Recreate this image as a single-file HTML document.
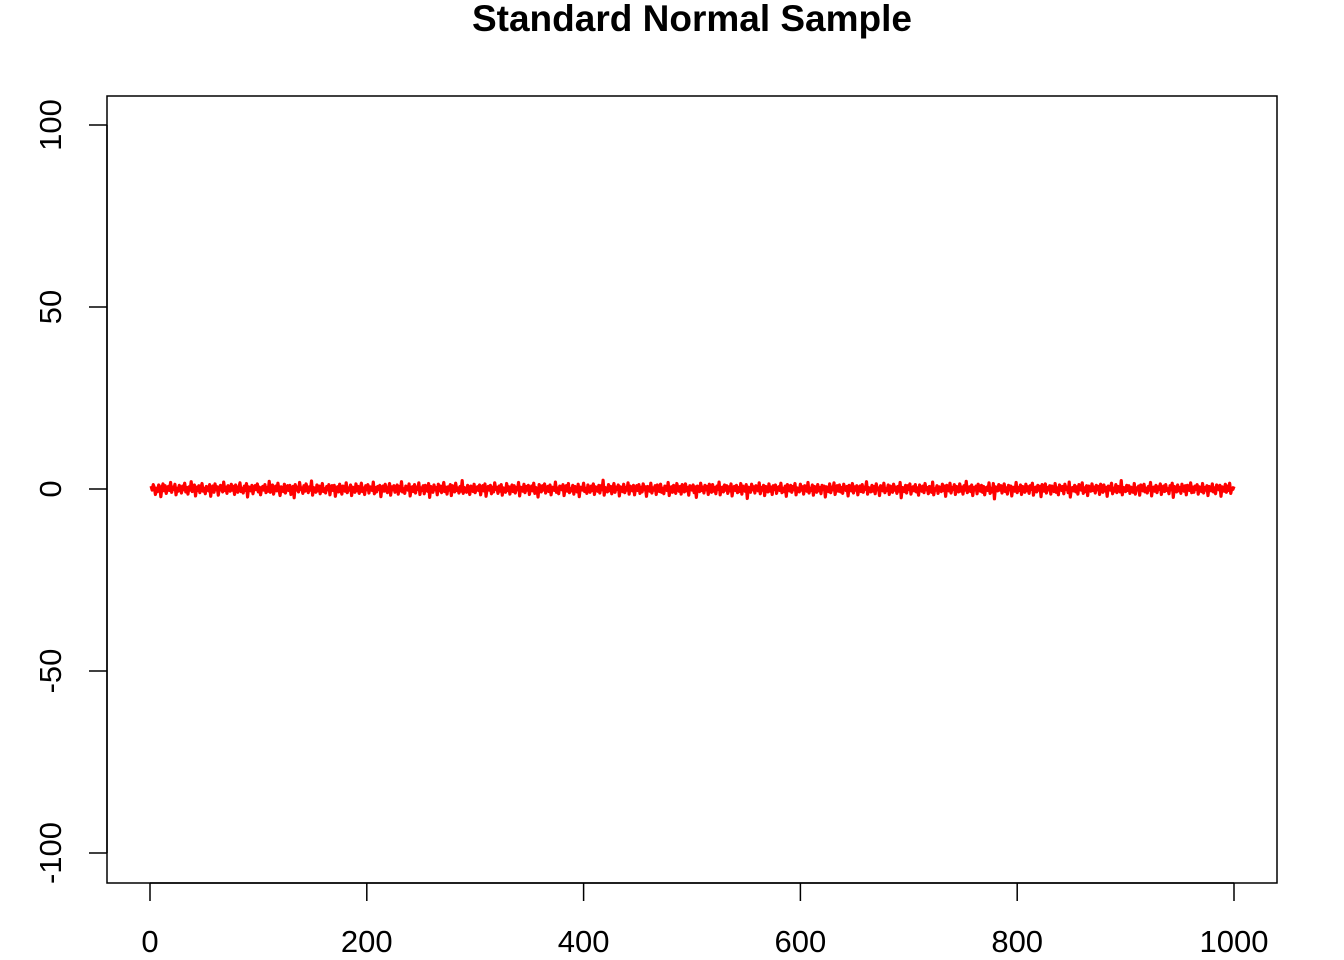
<!DOCTYPE html>
<html><head><meta charset="utf-8"><style>
html,body{margin:0;padding:0;background:#fff;}
svg{display:block;font-family:"Liberation Sans",Arial,sans-serif;}
</style></head><body>
<svg id="chart" width="1344" height="960">
<text x="692" y="31" text-anchor="middle" font-size="37" font-weight="bold">Standard Normal Sample</text>
<rect x="107" y="96" width="1170" height="787" fill="none" stroke="#000" stroke-width="1.5"/>
<g id="xaxis"></g>
<g id="yaxis"></g>
<path id="series" fill="none" stroke="#ff0000" stroke-width="3.2" stroke-linejoin="round"/>
</svg>
<script>
const xTicks=[0,200,400,600,800,1000];
const yTicks=[-100,-50,0,50,100];
const sampleValues=[
0.8,-0.3,1.2,0.4,-1.5,0.2,-0.7,1.1,0.6,-2.1,0.3,1.4,-0.5,0.9,-1.2,0.1,0.7,-0.4,1.8,-0.9,0.5,-0.1,1.3,-1.6,0.2,
-0.6,1.0,0.3,-1.1,0.8,-0.2,1.6,-0.8,0.4,-1.4,0.6,-0.3,2.0,-0.7,0.1,1.1,-1.9,0.5,-0.4,0.9,-1.0,0.3,1.5,-0.6,0.2,
-1.3,0.7,0.0,-0.5,1.2,-2.0,0.4,0.8,-0.9,1.4,-0.2,0.6,-1.7,0.3,1.0,-0.1,-0.8,1.9,-0.4,0.5,-1.2,0.9,0.2,-0.6,1.3,
-0.3,0.7,-1.5,1.1,0.0,-0.9,0.4,1.7,-0.7,0.2,-1.1,0.8,-0.4,1.5,-2.2,0.6,0.1,-0.5,1.0,-1.3,0.3,0.9,-0.2,1.4,-0.8,
0.5,-1.6,0.2,0.7,-0.3,1.2,-1.0,0.4,-0.6,2.1,-0.9,0.3,1.1,-1.4,0.0,0.8,-0.5,1.6,-0.2,-1.8,0.6,0.2,-0.7,1.3,-1.1,
0.4,0.9,-0.4,1.0,-1.5,0.1,0.7,-2.4,1.2,-0.3,0.5,-0.8,1.8,-0.1,0.3,-1.2,0.9,-0.6,1.4,0.2,-1.0,0.6,-0.3,2.2,-1.7,
0.4,0.0,-0.9,1.1,-0.5,0.8,-1.3,0.3,1.5,-0.7,0.1,-1.1,0.7,-0.2,1.2,-1.6,0.5,0.9,-0.4,1.0,-2.0,0.2,0.6,-0.8,1.3,
-0.1,-1.4,0.8,0.4,-0.6,1.7,-1.0,0.3,-0.3,1.1,-1.8,0.5,0.2,-0.9,1.4,-0.5,0.7,-1.2,0.0,1.6,-0.7,0.3,-1.5,0.9,-0.2,
1.2,-1.1,0.6,0.1,-0.4,1.9,-1.3,0.4,-0.8,0.7,-0.1,1.0,-2.1,0.5,0.8,-0.6,1.3,-0.3,-1.0,0.2,1.5,-1.7,0.6,-0.2,0.9,
-0.9,0.3,1.1,-1.4,0.7,-0.5,2.0,-0.8,0.1,-1.2,0.8,0.4,-0.3,1.4,-1.9,0.2,0.6,-0.7,1.2,-1.1,0.5,-0.1,1.7,-1.5,0.3,
-0.4,0.9,-1.3,1.0,0.0,-0.6,1.5,-2.3,0.7,0.2,-0.9,1.1,-0.2,0.4,-1.6,1.3,-0.5,0.8,-1.0,0.1,1.8,-0.7,0.5,-1.4,0.6,
-0.3,1.2,-1.8,0.9,0.2,-0.8,1.6,-0.4,0.3,-1.1,0.7,-0.6,2.3,-1.2,0.4,0.0,-0.9,1.0,-0.2,-1.5,0.8,0.5,-0.7,1.3,-1.0,
0.3,0.6,-0.4,1.1,-1.6,0.2,0.9,-0.5,1.4,-2.0,0.1,0.7,-0.3,1.0,-1.3,0.5,-0.8,1.7,-0.1,0.4,-1.2,0.8,-0.6,1.2,-1.7,
0.3,0.0,-0.9,1.5,-0.4,0.6,-1.4,0.2,1.1,-0.7,0.9,-1.1,0.4,-0.2,1.8,-1.9,0.5,0.3,-0.6,1.3,-1.0,0.7,-0.3,1.0,-1.5,
0.1,0.8,-0.5,1.6,-1.2,0.4,-0.1,-2.2,1.2,0.6,-0.8,0.9,-0.3,1.4,-1.1,0.2,0.7,-0.7,1.1,-1.6,0.5,0.0,-0.4,1.9,-0.9,
0.3,-1.3,0.8,0.6,-0.2,1.2,-1.8,0.4,0.9,-0.6,1.5,-1.0,0.1,-0.5,1.0,-1.4,0.7,0.2,-0.8,1.3,-2.1,0.5,0.4,-0.3,1.6,
-0.7,0.2,-1.2,1.1,0.0,-0.9,0.8,-0.4,1.4,-1.5,0.6,0.3,-0.6,1.0,-1.1,0.9,-0.2,2.4,-1.7,0.4,0.1,-0.8,1.2,-0.5,0.7,
-1.3,0.3,1.5,-0.9,0.5,-0.1,1.1,-1.9,0.6,0.2,-0.7,1.3,-1.0,0.4,-0.3,1.7,-1.4,0.8,0.0,-0.5,1.0,-1.6,0.3,0.9,-0.4,
1.2,-1.2,0.5,-0.8,1.4,-0.2,0.6,-2.0,0.7,0.1,-0.6,1.6,-1.1,0.3,-0.3,0.9,-1.5,1.1,0.4,-0.7,1.3,-0.9,0.2,-1.3,0.8,
0.5,-0.4,1.8,-1.8,0.2,0.6,-0.9,1.0,-0.1,-1.2,1.5,0.3,-0.6,0.7,-1.4,1.2,0.0,-0.8,1.4,-0.5,0.4,-1.7,0.9,0.2,-0.3,
1.1,-1.0,0.6,-2.3,0.8,0.3,-0.7,1.6,-0.4,0.5,-1.1,1.0,-0.2,0.7,-1.5,1.3,0.1,-0.9,1.2,-0.6,0.4,-1.3,0.8,-0.1,1.9,
-1.6,0.3,0.5,-0.8,1.1,-0.3,0.9,-1.2,0.6,-0.5,1.4,-1.9,0.2,0.7,-0.4,1.0,-1.0,0.4,-0.7,1.5,-1.4,0.8,0.0,-0.6,1.2,
-2.6,0.5,0.3,-0.9,1.3,-0.2,0.6,-1.1,0.9,0.1,-0.5,1.7,-1.3,0.4,-0.3,1.0,-1.8,0.7,0.2,-0.8,1.4,-0.6,0.5,-1.5,0.9,
-0.1,1.1,-1.2,0.3,0.6,-0.4,1.6,-1.0,0.2,-0.7,0.8,-2.0,1.2,0.4,-0.5,1.0,-0.9,0.7,-0.2,1.5,-1.6,0.3,0.1,-0.8,1.3,
-0.3,0.6,-1.4,0.9,0.5,-0.6,1.8,-1.1,0.2,-0.4,1.1,-1.7,0.7,0.0,-0.9,1.2,-0.5,0.4,-1.3,1.0,-0.1,0.8,-2.2,0.6,0.3,
-0.7,1.4,-1.0,0.5,-0.2,1.7,-1.5,0.2,0.9,-0.6,1.1,-0.8,0.4,-1.2,1.3,0.1,-0.4,0.7,-1.9,1.0,0.3,-0.5,1.5,-1.1,0.6,
-0.3,0.9,-1.6,0.2,0.8,-0.7,1.2,-0.9,0.5,-0.1,2.0,-1.4,0.4,0.0,-0.8,1.0,-0.6,0.7,-1.3,1.4,-0.2,0.3,-1.8,0.9,0.6,
-0.5,1.6,-1.0,0.1,-0.4,1.1,-1.5,0.8,0.2,-0.9,1.3,-0.3,0.5,-1.2,0.7,-0.6,1.8,-2.4,0.4,0.3,-0.7,1.0,-1.1,0.9,-0.1,
1.4,-1.4,0.2,0.6,-0.5,1.2,-0.8,0.3,-1.7,1.1,0.0,-0.6,0.8,-1.0,1.5,-0.2,0.4,-1.3,0.7,0.5,-0.9,1.9,-1.6,0.1,-0.3,
0.9,-1.2,0.6,0.2,-0.7,1.3,-0.4,0.8,-2.0,1.0,0.3,-0.5,1.6,-1.1,0.4,-0.1,1.2,-1.5,0.7,0.0,-0.8,1.4,-0.6,0.5,-1.4,
0.9,-0.3,2.1,-1.0,0.2,0.6,-0.7,1.1,-1.8,0.4,-0.2,0.8,-1.3,1.3,0.1,-0.6,1.0,-0.9,0.7,-1.6,0.3,0.5,-0.4,1.7,-1.2,
0.2,-0.8,1.5,-2.7,0.6,0.4,-0.5,1.2,-0.3,0.9,-1.1,0.1,1.4,-0.7,0.3,-1.4,1.0,-0.2,0.8,-1.9,0.5,0.2,-0.6,1.8,-1.0,
0.4,-0.4,1.1,-1.5,0.7,0.0,-0.9,1.3,-0.5,0.6,-1.2,0.9,-0.1,1.6,-1.7,0.3,0.5,-0.8,1.0,-0.3,0.7,-2.1,1.2,0.2,-0.6,
1.4,-1.1,0.4,-0.2,0.9,-1.4,0.8,0.1,-0.7,1.5,-0.9,0.3,-1.6,1.1,0.6,-0.4,0.7,-1.3,1.3,-0.1,0.5,-1.0,1.9,-2.2,0.2,
0.4,-0.5,1.0,-0.8,0.6,-1.4,1.2,0.0,-0.3,1.7,-1.2,0.3,-0.7,0.9,-1.8,0.8,0.2,-0.6,1.4,-0.4,0.5,-1.1,1.0,-0.2,0.7,
-1.5,1.3,0.1,-0.9,1.1,-0.5,0.4,-2.0,0.8,0.6,-0.3,1.6,-1.3,0.2,-0.6,1.2,-1.0,0.7,0.0,-0.8,2.3,-1.6,0.4,0.3,-0.7,
1.0,-0.4,0.9,-1.2,0.5,0.1,-0.9,1.5,-1.4,0.3,-0.2,0.8,-1.7,1.1,0.6,-0.5,1.3,-0.8,0.2,-1.1,0.7,-0.3,1.8,-1.9,0.4,
0.5,-0.6,1.0,-1.0,0.6,-0.1,1.4,-1.5,0.3,0.8,-0.7,1.2,-0.4,0.1,-1.3,0.9,-0.2,1.6,-2.3,0.7,0.2,-0.8,1.1,-0.5,0.4,
-1.2,1.3,0.0,-0.6,0.9,-1.6,1.0,0.3,-0.4,1.7,-1.0,0.5,-0.9,0.8,-0.1,1.2,-1.4,0.6,0.2,-0.7,1.5,-1.1,0.4,-0.3,0.9,
-1.8,0.7,0.1,-0.5,1.4,-0.8,0.3,-1.3,1.1,0.5,-0.2,1.0,-2.0,0.6,0.4,-0.6,1.3,-0.9,0.8,-0.4,1.6,-1.2,0.2,-0.1,0.7
];
const NS="http://www.w3.org/2000/svg";
const L=107,R=1277,T=96,B=883;
function sx(v){return 150+(v-0)*(1234-150)/1000;}
function sy(v){return 489-v*(489-125)/100;}
const svg=document.getElementById('chart');
const xg=document.getElementById('xaxis'),yg=document.getElementById('yaxis');
function mk(tag,attrs,parent){const e=document.createElementNS(NS,tag);for(const k in attrs)e.setAttribute(k,attrs[k]);parent.appendChild(e);return e;}
mk('line',{x1:sx(xTicks[0]),x2:sx(xTicks[xTicks.length-1]),y1:B,y2:B,stroke:'#000','stroke-width':1.5},xg);
xTicks.forEach(t=>{
  const l=mk('line',{x1:sx(t),x2:sx(t),y1:B,y2:B+18,stroke:'#000','stroke-width':1.5},xg);
  
  
  const tx=mk('text',{x:sx(t),y:952,'text-anchor':'middle','font-size':31},xg);
  tx.textContent=t;
  
  
});
mk('line',{x1:L,x2:L,y1:sy(yTicks[0]),y2:sy(yTicks[yTicks.length-1]),stroke:'#000','stroke-width':1.5},yg);
yTicks.forEach(t=>{
  const l=mk('line',{x1:L-18,x2:L,y1:sy(t),y2:sy(t),stroke:'#000','stroke-width':1.5},yg);
  
  
  const tx=mk('text',{x:61,y:sy(t),'text-anchor':'middle','font-size':31,transform:'rotate(-90 61 '+sy(t)+')'},yg);
  tx.textContent=t;
  
  
});
let d='';
sampleValues.forEach((v,i)=>{d+=(i?'L':'M')+sx(i+1).toFixed(2)+','+sy(v).toFixed(2);});
document.getElementById('series').setAttribute('d',d);
</script>
</body></html>
